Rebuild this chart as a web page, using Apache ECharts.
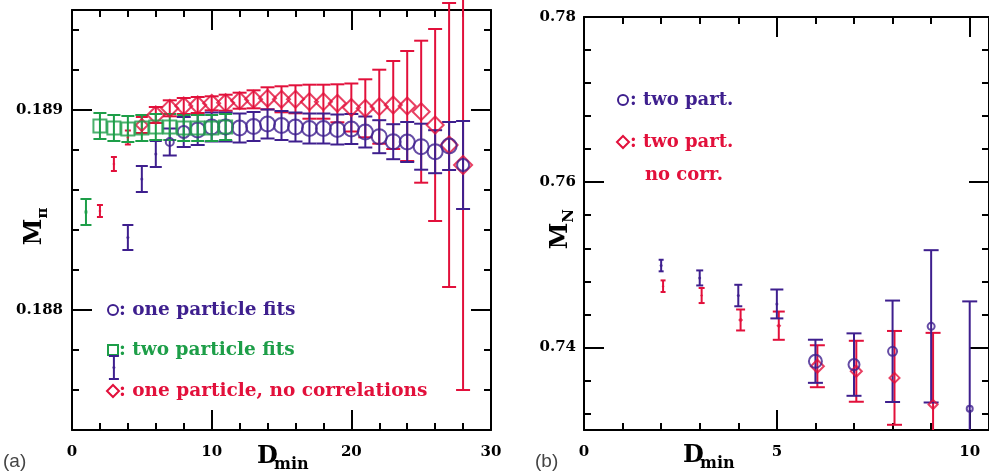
<!DOCTYPE html>
<html><head><meta charset="utf-8">
<script src="https://cdn.jsdelivr.net/npm/echarts@6/dist/echarts.min.js"></script>
<style>html,body{margin:0;padding:0;background:#fff}#c{width:989px;height:472px}</style>
</head><body><div id="c"></div>
<script>
// ================= DATA =================
// ---- panel (a): M_pi vs D_min ----
const aBlueD = [3,4,5,6,7,8,9,10,11,12,13,14,15,16,17,18,19,20,21,22,23,24,25,26,27,28];
const aBlueM = [0.1877125,0.1883625,0.188655,0.18878,0.18884,0.18889,0.1889,0.188915,0.188915,0.18891,0.1889175,0.18893,0.1889225,0.188915,0.1889075,0.1889075,0.1889025,0.188905,0.18889,0.1888665,0.1888415,0.18884,0.1888165,0.1887915,0.18882,0.188725];
const aBlueE = [0.0000575,0.0000625,0.000065,0.000065,0.0000675,0.000075,0.000075,0.0000725,0.0000725,0.0000725,0.0000725,0.0000725,0.0000725,0.0000725,0.000075,0.000075,0.000075,0.000075,0.0000775,0.0000825,0.0000875,0.0001,0.000115,0.0001075,0.00012,0.00022];

const aRedD = [2,3,4,5,6,7,8,9,10,11,12,13,14,15,16,17,18,19,20,21,22,23,24,25,26,27,28];
const aRedM = [0.188495,0.18873,0.1888625,0.188925,0.188975,0.1890085,0.18902,0.189025,0.1890335,0.1890365,0.1890465,0.1890535,0.1890585,0.1890535,0.1890535,0.1890415,0.1890415,0.1890335,0.1890125,0.1890085,0.1890165,0.189025,0.18902,0.1889915,0.188925,0.188825,0.188725];
const aRedE = [0.00003,0.000035,0.000035,0.00004,0.00004,0.00004,0.00004,0.00004,0.000035,0.00004,0.00004,0.000045,0.000055,0.000065,0.00007,0.000085,0.000085,0.000095,0.00012,0.000145,0.000185,0.00022,0.000275,0.000355,0.00048,0.00071,0.001125];

const aGreenD = [1,2,3,4,5,6,7,8,9,10,11];
const aGreenM = [0.18849,0.18892,0.18891,0.188905,0.18891,0.188915,0.188915,0.18891,0.18891,0.18891,0.188915];
const aGreenE = [0.000065,0.000065,0.000065,0.000065,0.000065,0.000065,0.000065,0.000065,0.000065,0.000065,0.000065];

// ---- panel (b): M_N vs D_min ----
const bBlueD = [2,3,4,5,6,7,8,9,10];
const bBlueM = [0.74991,0.74841,0.74628,0.74526,0.73832,0.73792,0.73953,0.74255,0.73257];
const bBlueE = [0.0007,0.00091,0.0013,0.00175,0.00261,0.00378,0.00614,0.00922,0.013];

const bRedD = [2.05,3.05,4.06,5.05,6.05,7.06,8.05,9.05];
const bRedM = [0.74741,0.74628,0.74332,0.74263,0.73772,0.73711,0.73631,0.73309];
const bRedE = [0.0007,0.00091,0.00127,0.00171,0.00254,0.00369,0.00568,0.00867];

// ---- axis ticks / labels ----
const aXMajor = [0,10,20,30];
const aXLabels = ['0','10','20','30'];
const aYMajor = [0.188,0.189];
const aYLabels = ['0.188','0.189'];
const bXMajor = [0,5,10];
const bXLabels = ['0','5','10'];
const bYMajor = [0.74,0.76,0.78];
const bYLabels = ['0.74','0.76','0.78'];

// ================= STYLE =================
const BLUE = '#3e1f8e', RED = '#e2103b', GREEN = '#1d9e48';
const aBlueSize = [3,3,3,3,8,12,15,15,15,15,15,15,15,15,15,15,15,15,15,15,15,15,15,15,15,12];
const aBlueCap  = [10,11,12,12,14,14,14,14,14,14,14,14,14,14,14,14,14,14,14,14,14,14,14,14,14,14];
const aRedSize  = [3,3,3,12,17,17,17,17,17,17,17,17,17,17,17,17,17,17,17,17,17,17,17,17,17,17,18];
const aRedCap   = [6,6,6,12,14,14,14,14,14,14,14,14,14,14,14,14,14,14,14,14,14,14,14,14,14,14,14];
const aGreenSize= [3,13,13,13,13,13,13,13,13,13,13];
const aGreenCap = [11,13,13,13,13,13,13,13,13,13,13];
const bBlueSize = [3,3,3,3,13,11,9,7,6];
const bBlueCap  = [5,7,8,13,15,15,15,15,15];
const bRedSize  = [3,3,5,5,13,11,10,9];
const bRedCap   = [5,6,9,12,15,15,15,15];

function range(a, b, s) { const out = []; for (let v = a; v <= b + s * 1e-6; v += s) out.push(Math.round(v * 1e7) / 1e7); return out; }
const aXMinor = range(0, 30, 2);
const aYMinor = range(0.1874, 0.1894, 0.0002);
const bXMinor = range(0, 10, 1);
const bYMinor = range(0.732, 0.78, 0.004);

const SERIF = '"DejaVu Serif", serif';
const BLK = {color: '#000', width: 2};

function axes(dim, grid, min, max, majors, minors, labels, margin) {
  const pos = dim === 'x' ? ['bottom', 'top'] : ['left', 'right'];
  const base = {type: 'value', gridIndex: grid, min, max, splitLine: {show: false}, minorTick: {show: false}};
  const fmt = v => { let k = 0, d = 1e9; majors.forEach((m, i) => { if (Math.abs(m - v) < d) { d = Math.abs(m - v); k = i; } }); return labels[k]; };
  return [
    Object.assign({}, base, {position: pos[0],
      axisLine: {show: true, onZero: false, lineStyle: BLK},
      axisTick: {show: true, inside: true, length: 20, customValues: majors, lineStyle: BLK},
      axisLabel: {show: true, customValues: majors, formatter: fmt, margin, color: '#000',
        fontFamily: SERIF, fontWeight: 'bold', fontSize: 15}}),
    Object.assign({}, base, {position: pos[0], axisLine: {show: false, onZero: false},
      axisTick: {show: true, inside: true, length: 7, customValues: minors, lineStyle: BLK},
      axisLabel: {show: false}}),
    Object.assign({}, base, {position: pos[1], axisLine: {show: true, onZero: false, lineStyle: BLK},
      axisTick: {show: true, inside: true, length: 20, customValues: majors, lineStyle: BLK},
      axisLabel: {show: false}}),
    Object.assign({}, base, {position: pos[1], axisLine: {show: false, onZero: false},
      axisTick: {show: true, inside: true, length: 7, customValues: minors, lineStyle: BLK},
      axisLabel: {show: false}})
  ];
}

function errSeries(xs, ys, es, caps, color, ai, clip) {
  return {type: 'custom', xAxisIndex: ai, yAxisIndex: ai, clip, silent: true, animation: false,
    encode: {x: 0, y: 1},
    data: xs.map((x, i) => [x, ys[i], es[i]]),
    renderItem(params, api) {
      const x = api.value(0), y = api.value(1), e = api.value(2);
      const t = api.coord([x, y + e]), b = api.coord([x, y - e]);
      const w = caps[params.dataIndex] / 2;
      const st = {stroke: color, lineWidth: 2};
      return {type: 'group', children: [
        {type: 'line', shape: {x1: t[0], y1: t[1], x2: b[0], y2: b[1]}, style: st},
        {type: 'line', shape: {x1: t[0] - w, y1: t[1], x2: t[0] + w, y2: t[1]}, style: st},
        {type: 'line', shape: {x1: b[0] - w, y1: b[1], x2: b[0] + w, y2: b[1]}, style: st}
      ]};
    }};
}
function markSeries(xs, ys, sizes, symbol, color, ai) {
  return {type: 'scatter', xAxisIndex: ai, yAxisIndex: ai, symbol, silent: true, animation: false,
    data: xs.map((x, i) => ({value: [x, ys[i]], symbolSize: sizes[i],
      itemStyle: sizes[i] <= 5 ? {color: color, borderWidth: 0}
                               : {color: 'rgba(0,0,0,0)', borderColor: color, borderWidth: 2}}))};
}

const chart = echarts.init(document.getElementById('c'), null, {renderer: 'canvas'});
const bold = (s, c) => ({fontFamily: SERIF, fontWeight: 'bold', fontSize: s, fill: c});
chart.setOption({
  animation: false,
  backgroundColor: '#fff',
  grid: [
    {left: 72, top: 10, width: 419, height: 420},
    {left: 584, top: 17, width: 414, height: 413}
  ],
  xAxis: [].concat(
    axes('x', 0, 0, 30, aXMajor, aXMinor, aXLabels, 15),
    axes('x', 1, 0, 10.5, bXMajor, bXMinor, bXLabels, 15)),
  yAxis: [].concat(
    axes('y', 0, 0.1874, 0.1895, aYMajor, aYMinor, aYLabels, 9),
    axes('y', 1, 0.73, 0.78, bYMajor, bYMinor, bYLabels, 8)),
  series: [
    errSeries(aRedD, aRedM, aRedE, aRedCap, RED, 0, false),
    markSeries(aRedD, aRedM, aRedSize, 'diamond', RED, 0),
    errSeries(aBlueD, aBlueM, aBlueE, aBlueCap, BLUE, 0, false),
    markSeries(aBlueD, aBlueM, aBlueSize, 'circle', BLUE, 0),
    errSeries(aGreenD, aGreenM, aGreenE, aGreenCap, GREEN, 0, false),
    markSeries(aGreenD, aGreenM, aGreenSize, 'rect', GREEN, 0),
    errSeries(bRedD, bRedM, bRedE, bRedCap, RED, 4, true),
    markSeries(bRedD, bRedM, bRedSize, 'diamond', RED, 4),
    errSeries(bBlueD, bBlueM, bBlueE, bBlueCap, BLUE, 4, true),
    markSeries(bBlueD, bBlueM, bBlueSize, 'circle', BLUE, 4)
  ],
  graphic: [
    // legend (a)
    {type: 'circle', shape: {cx: 113, cy: 310, r: 5}, style: {fill: 'none', stroke: BLUE, lineWidth: 2}},
    {type: 'text', x: 119, y: 310, style: Object.assign(bold(18.5, BLUE), {text: ': one particle fits', verticalAlign: 'middle'})},
    {type: 'rect', shape: {x: 108, y: 345, width: 10, height: 10}, style: {fill: 'none', stroke: GREEN, lineWidth: 2}},
    {type: 'text', x: 119, y: 350, style: Object.assign(bold(18.5, GREEN), {text: ': two particle fits', verticalAlign: 'middle'})},
    {type: 'polygon', shape: {points: [[113, 385], [119, 391], [113, 397], [107, 391]]}, style: {fill: 'none', stroke: RED, lineWidth: 2}},
    {type: 'text', x: 119, y: 391, style: Object.assign(bold(18.5, RED), {text: ': one particle, no correlations', verticalAlign: 'middle'})},
    // legend (b)
    {type: 'circle', shape: {cx: 623, cy: 100, r: 5}, style: {fill: 'none', stroke: BLUE, lineWidth: 2}},
    {type: 'text', x: 630, y: 100, style: Object.assign(bold(18, BLUE), {text: ': two part.', verticalAlign: 'middle'})},
    {type: 'polygon', shape: {points: [[623, 136], [629, 142], [623, 148], [617, 142]]}, style: {fill: 'none', stroke: RED, lineWidth: 2}},
    {type: 'text', x: 630, y: 142, style: Object.assign(bold(18, RED), {text: ': two part.', verticalAlign: 'middle'})},
    {type: 'text', x: 645, y: 175, style: Object.assign(bold(18, RED), {text: 'no corr.', verticalAlign: 'middle'})},
    // axis titles
    {type: 'text', x: 257, y: 457, style: Object.assign(bold(24, '#000'), {text: 'D', verticalAlign: 'middle'})},
    {type: 'text', x: 274, y: 465, style: Object.assign(bold(16, '#000'), {text: 'min', verticalAlign: 'middle'})},
    {type: 'text', x: 683, y: 456, style: Object.assign(bold(24, '#000'), {text: 'D', verticalAlign: 'middle'})},
    {type: 'text', x: 700, y: 464, style: Object.assign(bold(16, '#000'), {text: 'min', verticalAlign: 'middle'})},
    {type: 'text', x: 35, y: 232, rotation: Math.PI / 2, style: Object.assign(bold(24, '#000'), {text: 'M', align: 'center', verticalAlign: 'middle'})},
    {type: 'text', x: 43, y: 213, rotation: Math.PI / 2, style: Object.assign(bold(15, '#000'), {text: 'π', align: 'center', verticalAlign: 'middle'})},
    {type: 'text', x: 561, y: 236, rotation: Math.PI / 2, style: Object.assign(bold(24, '#000'), {text: 'M', align: 'center', verticalAlign: 'middle'})},
    {type: 'text', x: 569, y: 216, rotation: Math.PI / 2, style: Object.assign(bold(15, '#000'), {text: 'N', align: 'center', verticalAlign: 'middle'})},
    // panel tags
    {type: 'text', x: 3, y: 462, style: {text: '(a)', fontFamily: '"Liberation Sans", Arial, sans-serif', fontSize: 19, fill: '#444', verticalAlign: 'middle'}},
    {type: 'text', x: 535, y: 462, style: {text: '(b)', fontFamily: '"Liberation Sans", Arial, sans-serif', fontSize: 19, fill: '#444', verticalAlign: 'middle'}}
  ]
});
</script>
</body></html>
